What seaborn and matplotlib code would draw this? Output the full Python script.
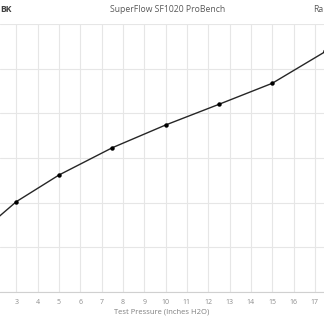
import matplotlib
matplotlib.use("Agg")
import matplotlib.pyplot as plt
import seaborn as sns
import pandas as pd

# Data (y in arbitrary flow units, gridlines every 50)
pressure = [2, 3, 5, 7.5, 10, 12.5, 15, 17.5]
flow = [80.4, 101.0, 130.9, 161.5, 187.0, 210.2, 233.8, 269.5]
xticks = list(range(3, 18))
title_text = "SuperFlow SF1020 ProBench"
left_text = "BK"
right_text = "Ra"
xlabel_text = "Test Pressure (Inches H2O)"

sns.set_theme(style="white")
plt.rcParams['font.family'] = ['Open Sans', 'DejaVu Sans']

df = pd.DataFrame({"p": pressure, "f": flow})

W = 324
fig = plt.figure(figsize=(3.24, 3.24), dpi=100)
ax = fig.add_axes([0, 1 - 291.7 / W, 1, (291.7 - 24.3) / W])

sns.lineplot(data=df, x="p", y="f", ax=ax, color="#262626", linewidth=1.0,
             marker="o", markersize=3.2, markeredgewidth=0, markerfacecolor="black")

ax.set_xlim(2.235, 17.43)
ax.set_ylim(0, 300)
ax.set_xticks(xticks)
ax.set_xticklabels([str(t) for t in xticks])
ax.set_yticks(range(0, 301, 50))
ax.set_yticklabels([])
ax.grid(True, color="#e6e6e6", linewidth=0.8)
ax.tick_params(axis="x", length=0, labelsize=5.0, colors="#8c8c8c", pad=5)
ax.tick_params(axis="y", length=0)
for s in ["left", "right", "top"]:
    ax.spines[s].set_visible(False)
ax.spines["bottom"].set_color("#d0d0d0")
ax.spines["bottom"].set_linewidth(0.8)
ax.set_xlabel(xlabel_text, fontsize=5.5, color="#7f7f7f", labelpad=2)
ax.set_ylabel("")

fig.text(168 / W, 1 - 10 / W, title_text, ha="center", va="center", fontsize=6.2, color="#595959")
fig.text(0, 1 - 10 / W, left_text, ha="left", va="center", fontsize=6.2, color="#404040", fontweight="bold")
fig.text(313 / W, 1 - 10 / W, right_text, ha="left", va="center", fontsize=6.2, color="#595959")

fig.savefig("out.png", dpi=100)
